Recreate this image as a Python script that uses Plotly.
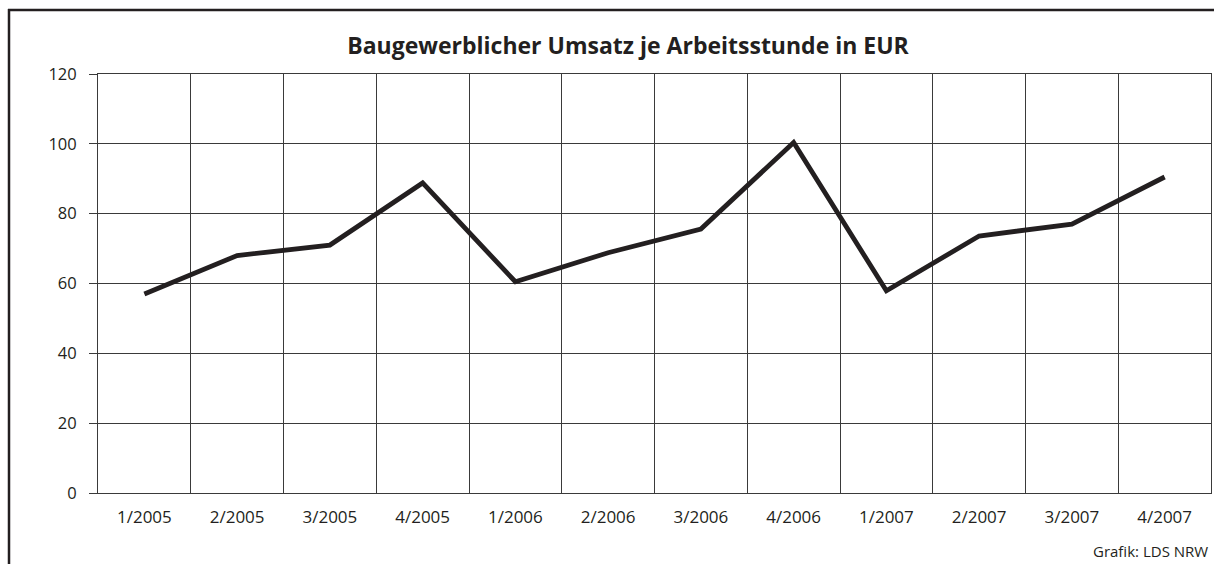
import plotly.graph_objects as go

quarters = ["1/2005", "2/2005", "3/2005", "4/2005", "1/2006", "2/2006",
            "3/2006", "4/2006", "1/2007", "2/2007", "3/2007", "4/2007"]
umsatz = [57.0, 68.0, 71.0, 88.8, 60.5, 68.8, 75.6, 100.4, 57.9, 73.6, 77.0, 90.5]
y_ticks = [0, 20, 40, 60, 80, 100, 120]

title_text = "Baugewerblicher Umsatz je Arbeitsstunde in EUR"
source_text = "Grafik: LDS NRW"

W, H = 1214, 564
L, R, T, B = 98, 3, 74, 71
pw, ph = W - L - R, H - T - B

def px_x(x):
    return (x - L) / pw

def px_y(y):
    return (H - B - y) / ph

fig = go.Figure()
fig.add_trace(go.Scatter(
    x=quarters, y=umsatz, mode="lines",
    line=dict(color="#231f20", width=4.8),
    hoverinfo="x+y", showlegend=False,
))

grid = "#3a3a3a"
font = "Open Sans, Noto Sans, sans-serif"
fig.update_layout(
    width=W, height=H,
    margin=dict(l=L, r=R, t=T, b=B),
    paper_bgcolor="white", plot_bgcolor="white",
    font=dict(family=font, color="#231f20", size=17),
    title=dict(text="<b>" + title_text + "</b>", x=628 / W, xanchor="center",
               y=1 - 46 / H, yanchor="middle", xref="container", yref="container",
               font=dict(size=23, family=font, color="#231f20")),
    xaxis=dict(type="category", tickson="boundaries", showgrid=True,
               range=[-0.5, len(quarters) - 0.5],
               gridcolor=grid, gridwidth=1, ticks="", showline=True,
               linecolor=grid, linewidth=1, mirror=True,
               tickfont=dict(size=17), ticklabelstandoff=9, zeroline=False),
    yaxis=dict(range=[0, 120], tickvals=y_ticks, showgrid=True, gridcolor=grid,
               gridwidth=1, ticks="outside", ticklen=8, tickcolor=grid,
               tickwidth=1, showline=True, linecolor=grid, linewidth=1,
               mirror=True, zeroline=False, tickfont=dict(size=16.5),
               ticklabelstandoff=9),
    shapes=[
        dict(type="line", xref="paper", yref="paper",
             x0=px_x(9), x1=px_x(9), y0=px_y(9), y1=px_y(575),
             line=dict(color="#231f20", width=2.5)),
        dict(type="line", xref="paper", yref="paper",
             x0=px_x(8), x1=px_x(1225), y0=px_y(10), y1=px_y(10),
             line=dict(color="#231f20", width=2.5)),
    ],
    annotations=[
        dict(text=source_text, xref="paper", yref="paper", x=px_x(1210),
             y=px_y(551), xanchor="right", yanchor="middle", showarrow=False,
             font=dict(size=15, family=font, color="#231f20")),
    ],
)

fig.write_html(
    "out.html",
    config={"displayModeBar": False},
    post_script="document.body.style.margin='0';document.body.style.overflow='hidden';",
)
